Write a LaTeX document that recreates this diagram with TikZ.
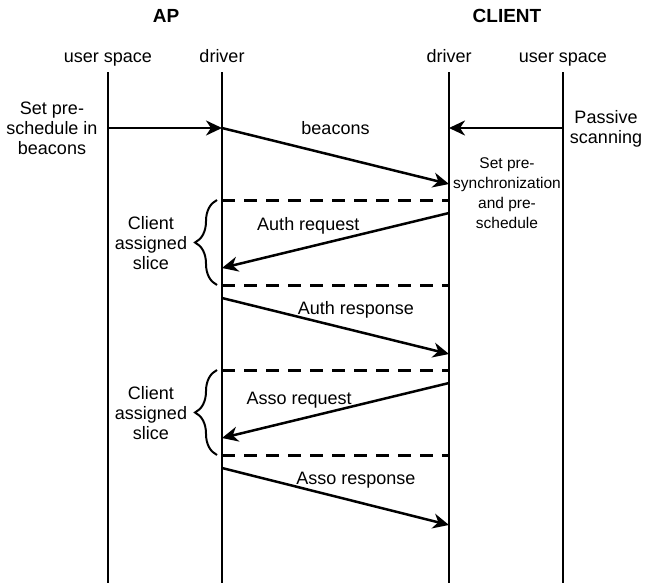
\documentclass[tikz,border=0pt]{standalone}
\usepackage{fontspec}
\setmainfont{Liberation Sans}
\usetikzlibrary{arrows.meta,decorations.pathreplacing}

\begin{document}
\begin{tikzpicture}[x=1pt,y=-1pt,
 txt/.style={font=\fontsize{18}{20}\selectfont,align=center,inner sep=1pt},
 lane/.style={txt,text height=13pt,text depth=4pt},
 small/.style={font=\fontsize{15.5}{20}\selectfont,align=center,inner sep=1pt},
 head/.style={font=\fontsize{19}{22}\selectfont\bfseries},
 life/.style={line width=2.5pt},
 msg/.style={-{Stealth[length=16pt,width=15pt,inset=5pt]},line width=2.5pt},
 slot/.style={line width=3pt,dash pattern=on 13pt off 9pt},
 slice/.style={decorate,decoration={brace,amplitude=22pt,aspect=.5},line width=2pt}]
\useasboundingbox (0,0) rectangle (652,583);
\node[head] (ap) at (166,16) {AP};
\node[head] (cl) at (507,16) {CLIENT};
\node[lane] (apu) at (108,58) {user space};
\node[lane] (apd) at (222,58) {driver};
\node[lane] (cld) at (449,58) {driver};
\node[lane] (clu) at (563,58) {user space};
\coordinate (bot) at (0,583);
\foreach \n in {apu,apd,cld,clu} \draw[life] ([yshift=-4.5pt]\n.south) -- (\n |- bot);
% notes beside the lifelines
\node[txt] (apnote) at (52,128) {Set pre-\\schedule in\\beacons};
\node[txt] (clnote) at (606,129) {Passive\\scanning};
\node[small] (sync) at (507,193) {Set pre-\\synchronization\\and pre-\\schedule};
\node[txt] (slice1) at (151,243) {Client\\assigned\\slice};
\node[txt] (slice2) at (151,413) {Client\\assigned\\slice};
% points on the lifelines
\coordinate (u0) at (108,128); \coordinate (d0) at (222,128);
\coordinate (c0) at (449,128); \coordinate (s0) at (563,128);
\coordinate (c1) at (449,184);
\coordinate (t1) at (222,200); \coordinate (t1e) at (449,200);
\coordinate (c2) at (449,213); \coordinate (d2) at (222,268);
\coordinate (t2) at (222,285); \coordinate (t2e) at (449,285);
\coordinate (d3) at (222,298); \coordinate (c3) at (449,354);
\coordinate (t3) at (222,370); \coordinate (t3e) at (449,370);
\coordinate (c4) at (449,383); \coordinate (d4) at (222,438);
\coordinate (t4) at (222,455); \coordinate (t4e) at (449,455);
\coordinate (d5) at (222,468); \coordinate (c5) at (449,525);
\draw[msg] (u0)--(d0); \draw[msg] (s0)--(c0);
\draw[msg] (d0) -- node[txt,pos=.5,above=19pt] {beacons} (c1);
\draw[slot] (t1)--(t1e); \draw[slot] (t2)--(t2e);
\draw[msg] (c2) -- node[txt,pos=.62,above=11pt] {Auth request} (d2);
\draw[msg] (d3) -- node[txt,pos=.59,above=11pt] {Auth response} (c3);
\draw[slot] (t3)--(t3e); \draw[slot] (t4)--(t4e);
\draw[msg] (c4) -- node[txt,pos=.66,above=8.5pt] {Asso request} (d4);
\draw[msg] (d5) -- node[txt,pos=.59,above=11.5pt] {Asso response} (c5);
\draw[slice] ([xshift=-5pt]t2) -- ([xshift=-5pt]t1);
\draw[slice] ([xshift=-5pt]t4) -- ([xshift=-5pt]t3);
\end{tikzpicture}
\end{document}
